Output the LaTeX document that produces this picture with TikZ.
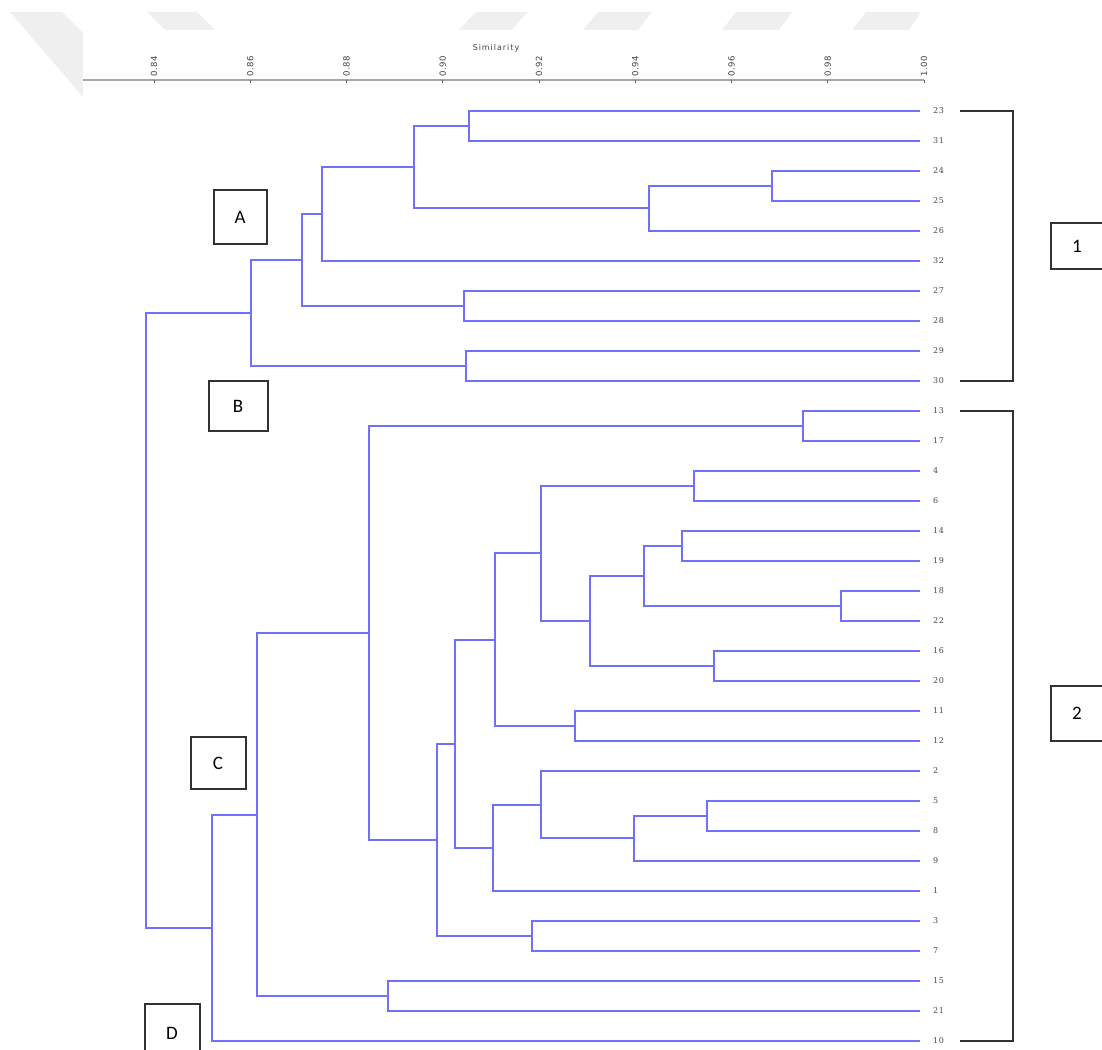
\documentclass[tikz,border=0pt]{standalone}
\usepackage{fontspec}
\newfontfamily\boxfont{Carlito}
\newfontfamily\leaffont[LetterSpace=8]{DejaVu Serif}
\newfontfamily\axisfont[LetterSpace=6]{DejaVu Sans}
\newfontfamily\titlefont[LetterSpace=12]{DejaVu Sans}
\definecolor{dendro}{RGB}{112,112,255}
\definecolor{wmark}{RGB}{239,239,239}
\definecolor{frame}{RGB}{50,50,50}
\begin{document}
\begin{tikzpicture}[x=1pt,y=-1pt,
  dend/.style={draw=dendro,line width=1.4pt},
  leaf/.style={anchor=west,inner sep=0pt,font=\leaffont\fontsize{8}{9}\selectfont,text=black!72},
  tick/.style={anchor=west,inner sep=0pt,rotate=90,font=\axisfont\fontsize{8.5}{9}\selectfont,text=black!75},
  letterbox/.style={draw=frame,line width=2pt,fill=white,font=\boxfont\fontsize{19}{20}\selectfont,inner sep=0pt},
  bracket/.style={draw=frame,line width=1.6pt}]
\clip (0,0) rectangle (1102,1049);
% watermark shapes
\fill[wmark] (10,12) -- (62,12) -- (83,33) -- (83,97) -- cycle;
\fill[wmark] (147,12) -- (197,12) -- (215,30) -- (165,30) -- cycle;
\fill[wmark] (476,12) -- (528,12) -- (511,30) -- (459,30) -- cycle;
\fill[wmark] (598,12) -- (652,12) -- (638,30) -- (583,30) -- cycle;
\fill[wmark] (736,12) -- (792,12) -- (779,30) -- (722,30) -- cycle;
\fill[wmark] (866,12) -- (921,12) -- (909,30) -- (852,30) -- cycle;
% axis
\node[font=\titlefont\fontsize{8}{9}\selectfont,text=black!75,inner sep=0pt] (simlab) at (496,48) {Similarity};
\coordinate (axl) at (83,80);
\coordinate (axr) at (924,80);
\draw[draw=black!35,line width=2pt] (axl) -- (axr);
\foreach \v [count=\i from 0] in {0.84,0.86,0.88,0.90,0.92,0.94,0.96,0.98,1.00}{
  \coordinate (tk\i) at (154+96.25*\i,80);
  \draw[black!60,line width=1pt] (tk\i) -- ++(0,3);
  \node[tick] (tl\i) at (154+96.25*\i,77) {\v};
}
% leaves
\foreach \n [count=\i from 0] in {23,31,24,25,26,32,27,28,29,30,13,17,4,6,14,19,18,22,16,20,11,12,2,5,8,9,1,3,7,15,21,10}{
  \coordinate (e\n) at (920,111+30*\i);
  \node[leaf] (l\n) at (933,111+30*\i) {\n};
}
% merge points
\coordinate (m1) at (469,126);
\coordinate (m2) at (772,186);
\coordinate (m3) at (649,208);
\coordinate (m4) at (414,167);
\coordinate (m5) at (322,214);
\coordinate (m6) at (464,306);
\coordinate (m7) at (302,260);
\coordinate (m8) at (466,366);
\coordinate (m9) at (251,313);
\coordinate (n1) at (803,426);
\coordinate (n2) at (694,486);
\coordinate (n3) at (682,546);
\coordinate (n4) at (841,606);
\coordinate (n5) at (644,576);
\coordinate (n6) at (714,666);
\coordinate (n7) at (590,621);
\coordinate (n8) at (541,553);
\coordinate (n9) at (575,726);
\coordinate (n10) at (495,640);
\coordinate (n11) at (707,816);
\coordinate (n12) at (634,838);
\coordinate (n13) at (541,805);
\coordinate (n14) at (493,848);
\coordinate (n15) at (455,744);
\coordinate (n16) at (532,936);
\coordinate (n17) at (437,840);
\coordinate (n18) at (369,633);
\coordinate (n19) at (388,996);
\coordinate (n20) at (257,815);
\coordinate (n21) at (212,928);
\coordinate (root) at (146,620);
\newcommand\dlink[3]{\draw[dend] (#2) -- (#2 -| #1) -- (#3 -| #1) -- (#3);}
\dlink{m1}{e23}{e31}
\dlink{m2}{e24}{e25}
\dlink{m3}{m2}{e26}
\dlink{m4}{m1}{m3}
\dlink{m5}{m4}{e32}
\dlink{m6}{e27}{e28}
\dlink{m7}{m5}{m6}
\dlink{m8}{e29}{e30}
\dlink{m9}{m7}{m8}
\dlink{n1}{e13}{e17}
\dlink{n2}{e4}{e6}
\dlink{n3}{e14}{e19}
\dlink{n4}{e18}{e22}
\dlink{n5}{n3}{n4}
\dlink{n6}{e16}{e20}
\dlink{n7}{n5}{n6}
\dlink{n8}{n2}{n7}
\dlink{n9}{e11}{e12}
\dlink{n10}{n8}{n9}
\dlink{n11}{e5}{e8}
\dlink{n12}{n11}{e9}
\dlink{n13}{e2}{n12}
\dlink{n14}{n13}{e1}
\dlink{n15}{n10}{n14}
\dlink{n16}{e3}{e7}
\dlink{n17}{n15}{n16}
\dlink{n18}{n1}{n17}
\dlink{n19}{e15}{e21}
\dlink{n20}{n18}{n19}
\dlink{n21}{n20}{e10}
\dlink{root}{m9}{n21}
% brackets
\coordinate (b1t) at (960,111);
\coordinate (b1b) at (960,381);
\coordinate (b2t) at (960,411);
\coordinate (b2b) at (960,1041);
\draw[bracket] (b1t) -- ++(53,0) |- (b1b);
\draw[bracket] (b2t) -- ++(53,0) |- (b2b);
% boxes
\node[letterbox,minimum width=53pt,minimum height=54pt] (A) at (240,217) {A};
\node[letterbox,minimum width=59pt,minimum height=50pt] (B) at (238,406) {B};
\node[letterbox,minimum width=55pt,minimum height=52pt] (C) at (218,763) {C};
\node[letterbox,minimum width=55pt,minimum height=58pt,text depth=0pt] (D) at (172,1033) {D};
\node[letterbox,minimum width=53pt,minimum height=46pt] (one) at (1077,246) {1};
\node[letterbox,minimum width=53pt,minimum height=55pt] (two) at (1077,713) {2};
\end{tikzpicture}
\end{document}
